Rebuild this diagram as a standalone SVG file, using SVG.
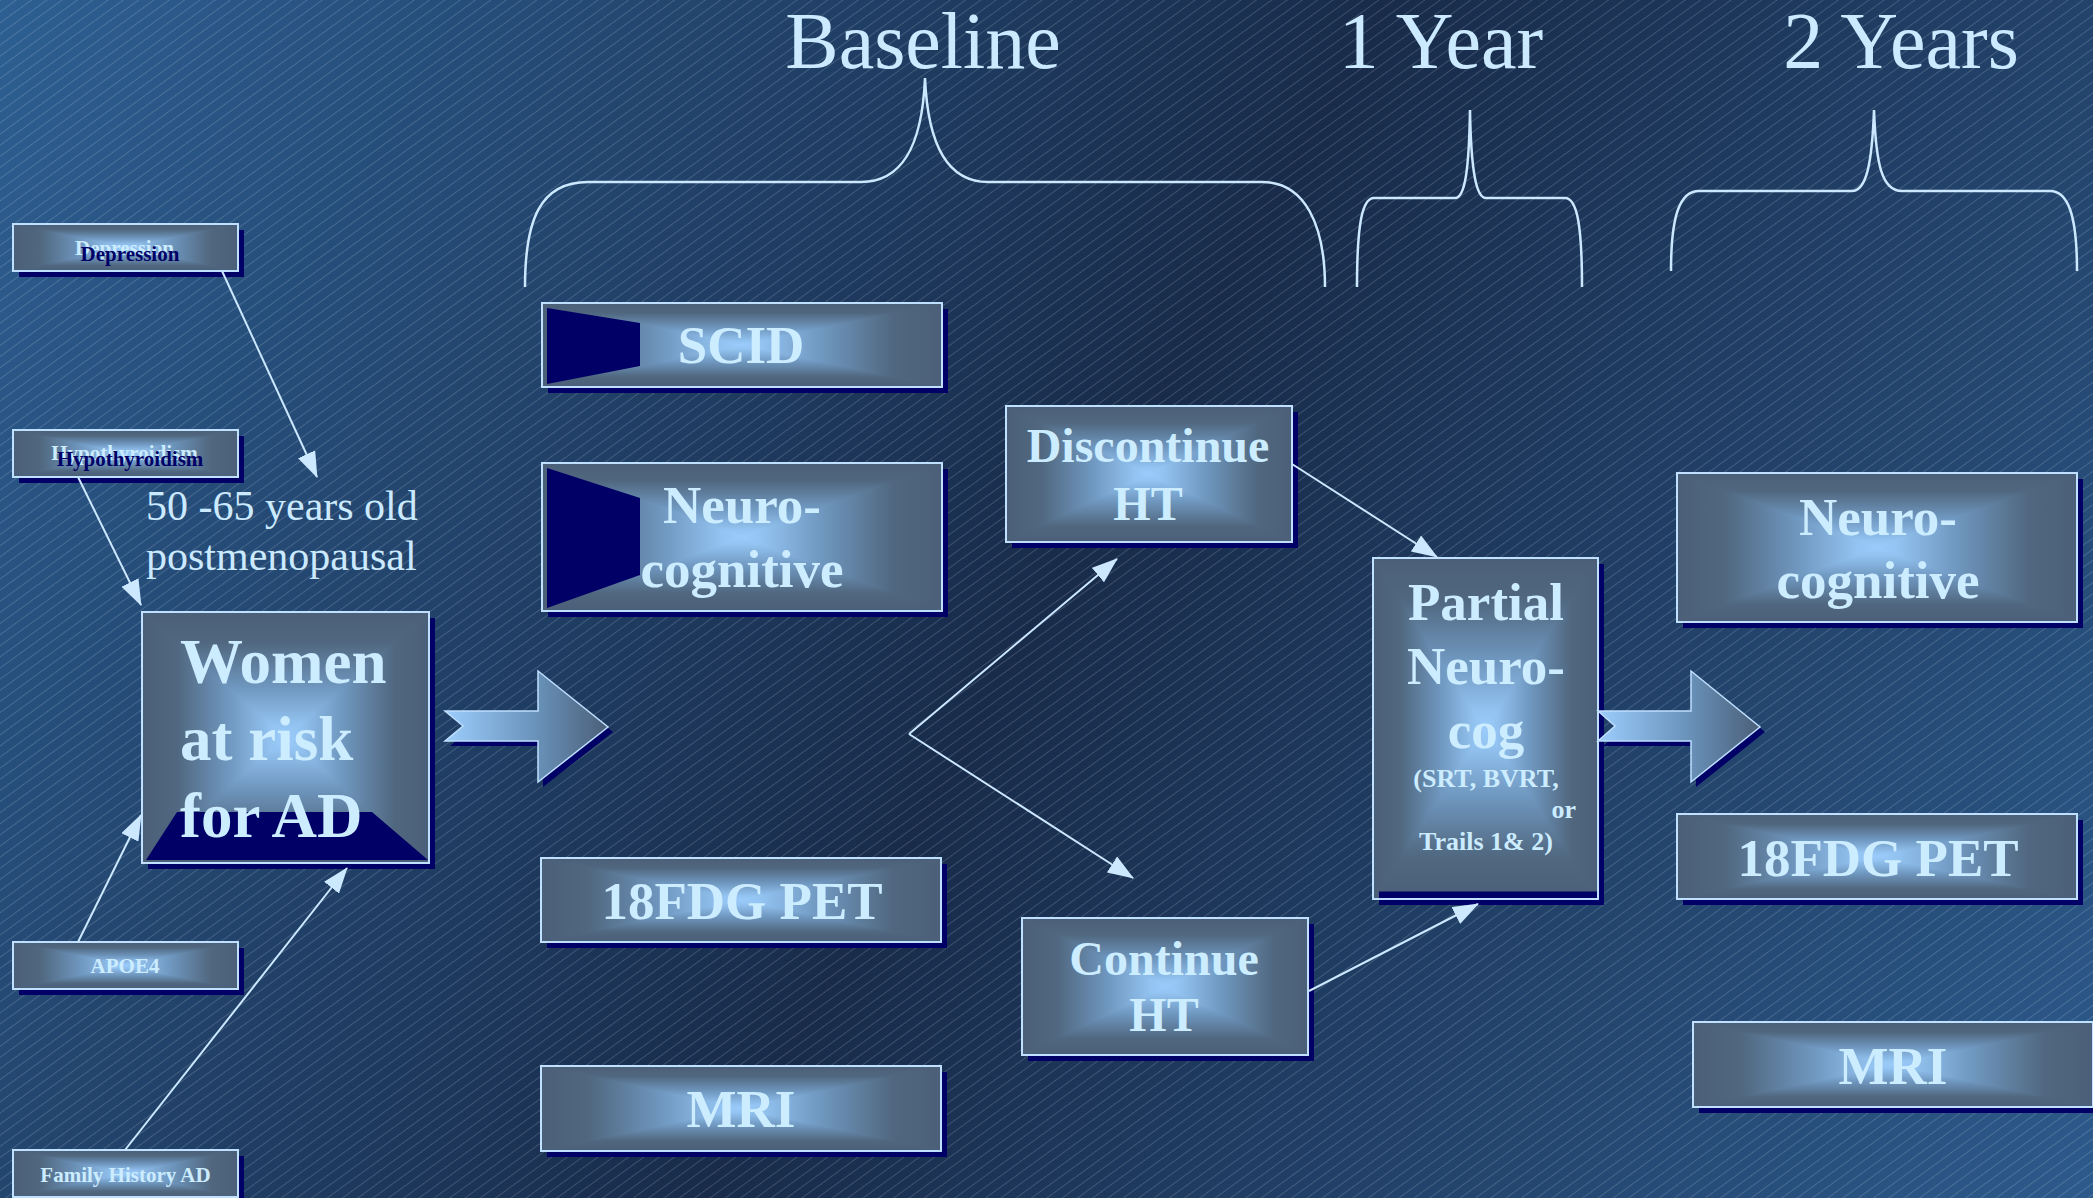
<svg xmlns="http://www.w3.org/2000/svg" width="2093" height="1198" viewBox="0 0 2093 1198">
<defs>
<linearGradient id="bg" gradientUnits="userSpaceOnUse" x1="0" y1="0" x2="2093" y2="1198">
<stop offset="0" stop-color="#2d5f92"/>
<stop offset="0.5" stop-color="#182b4a"/>
<stop offset="1" stop-color="#2c5a8b"/>
</linearGradient>
<pattern id="hatch" width="10" height="9" patternUnits="userSpaceOnUse" patternTransform="rotate(-36)">
<line x1="0" y1="0.5" x2="10" y2="0.5" stroke="#ffffff" stroke-opacity="0.2" stroke-width="0.8"/>
</pattern>
<linearGradient id="gh" x1="0" y1="0" x2="1" y2="0">
<stop offset="0" stop-color="#4b5f78"/>
<stop offset="0.12" stop-color="#50677f"/>
<stop offset="0.3" stop-color="#6f97bf"/>
<stop offset="0.45" stop-color="#93c3f1"/>
<stop offset="0.5" stop-color="#9acbfa"/>
<stop offset="0.55" stop-color="#93c3f1"/>
<stop offset="0.7" stop-color="#6f97bf"/>
<stop offset="0.88" stop-color="#50677f"/>
<stop offset="1" stop-color="#4b5f78"/>
</linearGradient>
<linearGradient id="gv" x1="0" y1="0" x2="0" y2="1">
<stop offset="0" stop-color="#4b5f78"/>
<stop offset="0.12" stop-color="#50677f"/>
<stop offset="0.3" stop-color="#6f97bf"/>
<stop offset="0.45" stop-color="#93c3f1"/>
<stop offset="0.5" stop-color="#9acbfa"/>
<stop offset="0.55" stop-color="#93c3f1"/>
<stop offset="0.7" stop-color="#6f97bf"/>
<stop offset="0.88" stop-color="#50677f"/>
<stop offset="1" stop-color="#4b5f78"/>
</linearGradient>
<linearGradient id="ga" x1="0" y1="0" x2="1" y2="0">
<stop offset="0" stop-color="#9ccdfc"/>
<stop offset="0.55" stop-color="#6a93bb"/>
<stop offset="1" stop-color="#4b5f78"/>
</linearGradient>
<marker id="ah" markerUnits="userSpaceOnUse" markerWidth="26" markerHeight="19" refX="25" refY="9.5" orient="auto">
<path d="M0,0 L26,9.5 L0,19 Z" fill="#cce8ff"/>
</marker>
<style>
.sh{fill:#000066}
.navy{fill:#000066}
.bd{fill:none;stroke:#bfe0ff;stroke-width:2}
.t{font-family:"Liberation Serif","Times New Roman",serif;font-weight:bold;fill:#ccecff;text-anchor:middle}
.tk{font-family:"Liberation Serif","Times New Roman",serif;font-weight:bold;fill:#000066;text-anchor:middle}
.ttl{font-family:"Liberation Serif","Times New Roman",serif;font-size:80px;fill:#cceaff;text-anchor:middle}
.lbl{font-family:"Liberation Serif","Times New Roman",serif;font-size:42px;fill:#cceaff}
.brace{fill:none;stroke:#cce8ff;stroke-width:2.5}
.con{fill:none;stroke:#cce8ff;stroke-width:2}
.arr{fill:url(#ga);stroke:#bfe0ff;stroke-width:1.5}
</style>
</defs>

<rect x="0" y="0" width="2093" height="1198" fill="url(#bg)"/>
<rect x="0" y="0" width="2093" height="1198" fill="url(#hatch)"/>

<g id="titles">
<text class="ttl" x="923" y="68">Baseline</text>
<text class="ttl" x="1441" y="68">1 Year</text>
<text class="ttl" x="1901" y="68">2 Years</text>
</g>

<g id="braces">
<path class="brace" d="M525,287 C525,220 540,182 588,182 L861,182 C900,182 922,150 925,78 C928,150 950,182 988,182 L1262,182 C1305,182 1325,225 1325,287"/>
<path class="brace" d="M1357,287 C1357,225 1362,198 1374,198 L1455,198 C1465,198 1469,170 1470,110 C1471,170 1476,198 1486,198 L1565,198 C1577,198 1582,225 1582,287"/>
<path class="brace" d="M1671,271 C1671,215 1680,191 1699,191 L1852,191 C1866,191 1872,165 1874,110 C1876,165 1882,191 1902,191 L2050,191 C2068,191 2077,215 2077,271"/>
</g>

<g id="depression">
<rect class="sh" x="19" y="230" width="225" height="47"/>
<rect x="13" y="224" width="225" height="47" fill="url(#gh)"/>
<path d="M13,224 L238,224 L125.5,247.5 Z M13,271 L238,271 L125.5,247.5 Z" fill="url(#gv)"/>
<rect class="bd" x="13" y="224" width="225" height="47"/>
<text class="t" x="124.5" y="255" font-size="21">Depression</text>
<text class="tk" x="130" y="261" font-size="21">Depression</text>
</g>

<g id="hypothyroidism">
<rect class="sh" x="19" y="436" width="225" height="47"/>
<rect x="13" y="430" width="225" height="47" fill="url(#gh)"/>
<path d="M13,430 L238,430 L125.5,453.5 Z M13,477 L238,477 L125.5,453.5 Z" fill="url(#gv)"/>
<rect class="bd" x="13" y="430" width="225" height="47"/>
<text class="t" x="124.5" y="460" font-size="21">Hypothyroidism</text>
<text class="tk" x="130" y="466" font-size="21">Hypothyroidism</text>
</g>

<g id="apoe4">
<rect class="sh" x="19" y="948" width="225" height="47"/>
<rect x="13" y="942" width="225" height="47" fill="url(#gh)"/>
<path d="M13,942 L238,942 L125.5,965.5 Z M13,989 L238,989 L125.5,965.5 Z" fill="url(#gv)"/>
<rect class="bd" x="13" y="942" width="225" height="47"/>
<text class="t" x="125" y="973" font-size="21">APOE4</text>
</g>

<g id="family-history">
<rect class="sh" x="19" y="1156" width="225" height="47"/>
<rect x="13" y="1150" width="225" height="47" fill="url(#gh)"/>
<path d="M13,1150 L238,1150 L125.5,1173.5 Z M13,1197 L238,1197 L125.5,1173.5 Z" fill="url(#gv)"/>
<rect class="bd" x="13" y="1150" width="225" height="47"/>
<text class="t" x="125.5" y="1182" font-size="21">Family History AD</text>
</g>

<g id="age-label">
<text class="lbl" x="146" y="520">50 -65 years old</text>
<text class="lbl" x="146" y="570">postmenopausal</text>
</g>

<g id="women">
<rect class="sh" x="148" y="618" width="287" height="251"/>
<rect x="142" y="612" width="287" height="251" fill="url(#gh)"/>
<path d="M142,612 L429,612 L285.5,737.5 Z M142,863 L429,863 L285.5,737.5 Z" fill="url(#gv)"/>
<path class="navy" d="M146,860 L177,812 L372,812 L428,860 Z"/>
<rect class="bd" x="142" y="612" width="287" height="251"/>
<text class="t" x="180" y="683" font-size="63" style="text-anchor:start">Women</text>
<text class="t" x="180" y="760" font-size="63" style="text-anchor:start">at risk</text>
<text class="t" x="180" y="837" font-size="63" style="text-anchor:start">for AD</text>
</g>

<g id="arrow-baseline">
<path class="sh" transform="translate(5,5)" d="M445,711 L538,711 L538,671 L608,727 L538,782 L538,741 L445,741 L463,726 Z"/>
<path class="arr" d="M445,711 L538,711 L538,671 L608,727 L538,782 L538,741 L445,741 L463,726 Z"/>
</g>

<g id="scid">
<rect class="sh" x="548" y="309" width="400" height="84"/>
<rect x="542" y="303" width="400" height="84" fill="url(#gh)"/>
<path d="M542,303 L942,303 L742,345 Z M542,387 L942,387 L742,345 Z" fill="url(#gv)"/>
<path class="navy" d="M547,308 L640,323 L640,366 L547,384 Z"/>
<rect class="bd" x="542" y="303" width="400" height="84"/>
<text class="t" x="741" y="363" font-size="53">SCID</text>
</g>

<g id="neuro-baseline">
<rect class="sh" x="548" y="469" width="400" height="148"/>
<rect x="542" y="463" width="400" height="148" fill="url(#gh)"/>
<path d="M542,463 L942,463 L742,537 Z M542,611 L942,611 L742,537 Z" fill="url(#gv)"/>
<path class="navy" d="M547,468 L640,498 L640,575 L547,608 Z"/>
<rect class="bd" x="542" y="463" width="400" height="148"/>
<text class="t" x="742" y="523" font-size="53">Neuro-</text>
<text class="t" x="742" y="587" font-size="53">cognitive</text>
</g>

<g id="pet-baseline">
<rect class="sh" x="547" y="864" width="400" height="84"/>
<rect x="541" y="858" width="400" height="84" fill="url(#gh)"/>
<path d="M541,858 L941,858 L741,900 Z M541,942 L941,942 L741,900 Z" fill="url(#gv)"/>
<rect class="bd" x="541" y="858" width="400" height="84"/>
<text class="t" x="742" y="919" font-size="53">18FDG PET</text>
</g>

<g id="mri-baseline">
<rect class="sh" x="547" y="1072" width="400" height="85"/>
<rect x="541" y="1066" width="400" height="85" fill="url(#gh)"/>
<path d="M541,1066 L941,1066 L741,1108.5 Z M541,1151 L941,1151 L741,1108.5 Z" fill="url(#gv)"/>
<rect class="bd" x="541" y="1066" width="400" height="85"/>
<text class="t" x="741" y="1127" font-size="53">MRI</text>
</g>

<g id="discontinue">
<rect class="sh" x="1012" y="412" width="286" height="136"/>
<rect x="1006" y="406" width="286" height="136" fill="url(#gh)"/>
<path d="M1006,406 L1292,406 L1149,474 Z M1006,542 L1292,542 L1149,474 Z" fill="url(#gv)"/>
<rect class="bd" x="1006" y="406" width="286" height="136"/>
<text class="t" x="1148" y="462" font-size="48">Discontinue</text>
<text class="t" x="1148" y="520" font-size="48">HT</text>
</g>

<g id="continue">
<rect class="sh" x="1028" y="924" width="286" height="137"/>
<rect x="1022" y="918" width="286" height="137" fill="url(#gh)"/>
<path d="M1022,918 L1308,918 L1165,986.5 Z M1022,1055 L1308,1055 L1165,986.5 Z" fill="url(#gv)"/>
<rect class="bd" x="1022" y="918" width="286" height="137"/>
<text class="t" x="1164" y="975" font-size="48">Continue</text>
<text class="t" x="1164" y="1031" font-size="48">HT</text>
</g>

<g id="partial">
<rect class="sh" x="1379" y="564" width="225" height="341"/>
<rect x="1373" y="558" width="225" height="341" fill="url(#gh)"/>
<path d="M1373,558 L1598,558 L1485.5,728.5 Z M1373,899 L1598,899 L1485.5,728.5 Z" fill="url(#gv)"/>
<rect class="navy" x="1379" y="891.5" width="218" height="6.5"/>
<rect class="bd" x="1373" y="558" width="225" height="341"/>
<text class="t" x="1486" y="620" font-size="53">Partial</text>
<text class="t" x="1486" y="684" font-size="53">Neuro-</text>
<text class="t" x="1486" y="748" font-size="53">cog</text>
<text class="t" x="1486" y="787" font-size="26">(SRT, BVRT,</text>
<text class="t" x="1576" y="818" font-size="26" style="text-anchor:end">or</text>
<text class="t" x="1486" y="850" font-size="26">Trails 1&amp; 2)</text>
</g>

<g id="arrow-2yr" transform="translate(1153,0)">
<path class="sh" transform="translate(5,5)" d="M445,711 L538,711 L538,671 L607,727 L538,782 L538,741 L445,741 L462,726 Z"/>
<path class="arr" d="M445,711 L538,711 L538,671 L607,727 L538,782 L538,741 L445,741 L462,726 Z"/>
</g>

<g id="neuro-2yr">
<rect class="sh" x="1683" y="479" width="400" height="149"/>
<rect x="1677" y="473" width="400" height="149" fill="url(#gh)"/>
<path d="M1677,473 L2077,473 L1877,547.5 Z M1677,622 L2077,622 L1877,547.5 Z" fill="url(#gv)"/>
<rect class="bd" x="1677" y="473" width="400" height="149"/>
<text class="t" x="1878" y="535" font-size="53">Neuro-</text>
<text class="t" x="1878" y="598" font-size="53">cognitive</text>
</g>

<g id="pet-2yr">
<rect class="sh" x="1683" y="820" width="400" height="85"/>
<rect x="1677" y="814" width="400" height="85" fill="url(#gh)"/>
<path d="M1677,814 L2077,814 L1877,856.5 Z M1677,899 L2077,899 L1877,856.5 Z" fill="url(#gv)"/>
<rect class="bd" x="1677" y="814" width="400" height="85"/>
<text class="t" x="1878" y="876" font-size="53">18FDG PET</text>
</g>

<g id="mri-2yr">
<rect class="sh" x="1699" y="1028" width="400" height="85"/>
<rect x="1693" y="1022" width="400" height="85" fill="url(#gh)"/>
<path d="M1693,1022 L2093,1022 L1893,1064.5 Z M1693,1107 L2093,1107 L1893,1064.5 Z" fill="url(#gv)"/>
<rect class="bd" x="1693" y="1022" width="400" height="85"/>
<text class="t" x="1893" y="1084" font-size="53">MRI</text>
</g>

<g id="connectors">
<line class="con" x1="222" y1="271" x2="317" y2="477" marker-end="url(#ah)"/>
<line class="con" x1="78" y1="477" x2="141" y2="605" marker-end="url(#ah)"/>
<line class="con" x1="78" y1="942" x2="141" y2="815" marker-end="url(#ah)"/>
<line class="con" x1="125" y1="1150" x2="347" y2="868" marker-end="url(#ah)"/>
<line class="con" x1="909" y1="734" x2="1117" y2="559" marker-end="url(#ah)"/>
<line class="con" x1="909" y1="734" x2="1133" y2="878" marker-end="url(#ah)"/>
<line class="con" x1="1292" y1="464" x2="1437" y2="557" marker-end="url(#ah)"/>
<line class="con" x1="1309" y1="991" x2="1478" y2="904" marker-end="url(#ah)"/>
</g>
</svg>
